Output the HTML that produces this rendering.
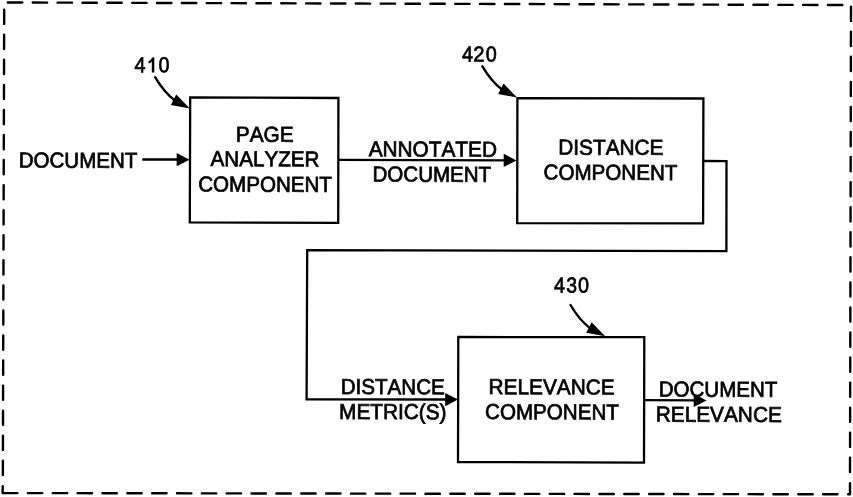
<!DOCTYPE html>
<html><head><meta charset="utf-8"><style>
html,body{margin:0;padding:0;background:#fff;}
svg{display:block;will-change:transform;}
text{font-family:"Liberation Sans",sans-serif;font-size:20.8px;fill:#000;stroke:#000;stroke-width:0.7px;font-kerning:none;}
</style></head><body>
<svg width="853" height="497" viewBox="0 0 853 497">
<rect width="853" height="497" fill="#fff"/>
<path d="M7.9,2.47 L843.6,5.03" fill="none" stroke="#000" stroke-width="2.4" stroke-linecap="round" stroke-dasharray="14.4 10.45"/>
<path d="M4.2,9.7 L2.85,476.2" fill="none" stroke="#000" stroke-width="2.4" stroke-linecap="round" stroke-dasharray="14.2 10.86"/>
<path d="M851,6.7 L850,473.7" fill="none" stroke="#000" stroke-width="2.4" stroke-linecap="round" stroke-dasharray="14.2 10.86"/>
<path d="M27.9,493.1 L838.7,494.3" fill="none" stroke="#000" stroke-width="2.4" stroke-linecap="round" stroke-dasharray="14.4 10.45"/>
<path d="M2.75,486.2 L2.6,493 L17.4,493.1" fill="none" stroke="#000" stroke-width="2.4" stroke-linejoin="round" stroke-linecap="round"/>
<path d="M850,483.2 L850,494.3 L848.2,494.3" fill="none" stroke="#000" stroke-width="2.4" stroke-linejoin="round" stroke-linecap="round"/>
<path d="M190.2,97.4 L338.4,98 L338.2,222.9 L189.8,222.4 Z" fill="none" stroke="#000" stroke-width="2.3"/>
<path d="M517.4,98.1 L703.4,98.5 L703.1,223.4 L517.2,223.1 Z" fill="none" stroke="#000" stroke-width="2.3"/>
<path d="M458.3,337 L644.3,337.2 L644,462.7 L458,462 Z" fill="none" stroke="#000" stroke-width="2.3"/>
<path d="M703.3,161 L726.5,161.1 L726.4,251.2 L307.2,250.2 L306.6,399.3 L450,399.5" fill="none" stroke="#000" stroke-width="2.3"/>
<path d="M142.3,159.5 L182,159.5" fill="none" stroke="#000" stroke-width="2.3"/>
<polygon points="189.50,159.70 176.70,166.30 176.70,153.10"/>
<path d="M338.3,159.9 L508,160.3" fill="none" stroke="#000" stroke-width="2.3"/>
<polygon points="516.50,160.40 503.69,166.97 503.71,153.77"/>
<polygon points="458.00,399.60 445.19,406.17 445.21,392.97"/>
<path d="M644.3,400.1 L698,400.3" fill="none" stroke="#000" stroke-width="2.3"/>
<polygon points="706.50,400.40 693.69,406.97 693.71,393.77"/>
<path d="M155.10,77.20 C160.00,85.50 165.00,93.00 174.50,100.30" fill="none" stroke="#000" stroke-width="2.4" stroke-linecap="round"/><polygon points="189.80,108.40 170.80,105.00 176.25,94.50"/>
<path d="M482.40,66.30 C487.30,74.60 492.30,82.10 501.80,89.40" fill="none" stroke="#000" stroke-width="2.4" stroke-linecap="round"/><polygon points="517.10,97.50 498.10,94.10 503.55,83.60"/>
<path d="M570.50,305.00 C575.40,313.30 580.40,320.80 589.90,328.10" fill="none" stroke="#000" stroke-width="2.4" stroke-linecap="round"/><polygon points="605.20,336.20 586.20,332.80 591.65,322.30"/>
<text transform="translate(134.45 72.3) rotate(0.17) scale(0.95 1.04)" text-anchor="start">4</text>
<text transform="translate(158.43 72.3) rotate(0.17) scale(0.95 1.04)" text-anchor="start">0</text>
<path d="M153.05,58.3 L153.05,72.5" fill="none" stroke="#000" stroke-width="2.5"/>
<path d="M153.2,58.4 C151.9,60.2 150.9,61.2 149.6,62.0" fill="none" stroke="#000" stroke-width="2.4" stroke-linecap="round"/>
<text transform="translate(461.95 61.5) rotate(0.17) scale(0.95 1.04)" text-anchor="start">4</text>
<text transform="translate(473.19 61.5) rotate(0.17) scale(0.97 1.04)" text-anchor="start">2</text>
<text transform="translate(485.73 61.5) rotate(0.17) scale(0.95 1.04)" text-anchor="start">0</text>
<text transform="translate(553.95 292.5) rotate(0.17) scale(0.95 1.04)" text-anchor="start">4</text>
<text transform="translate(566.16 292.5) rotate(0.17) scale(0.93 1.04)" text-anchor="start">3</text>
<text transform="translate(577.93 292.5) rotate(0.17) scale(0.95 1.04)" text-anchor="start">0</text>
<text transform="translate(18.71 167.5) rotate(0.17) scale(0.988 1.04)" text-anchor="start">DOCUMENT</text>
<text transform="translate(235.79 141.7) rotate(0.17) scale(1.0 1.04)" text-anchor="start">PAGE</text>
<text transform="translate(210.56 166.1) rotate(0.17) scale(0.993 1.04)" text-anchor="start">ANALYZER</text>
<text transform="translate(198.15 191.5) rotate(0.17) scale(0.99 1.04)" text-anchor="start">COMPONENT</text>
<text transform="translate(368.66 156.3) rotate(0.17) scale(1.0 1.04)" text-anchor="start">ANNOTATED</text>
<text transform="translate(372.51 181.5) rotate(0.17) scale(0.988 1.04)" text-anchor="start">DOCUMENT</text>
<text transform="translate(558.29 154.6) rotate(0.17) scale(1.0 1.04)" text-anchor="start">DISTANCE</text>
<text transform="translate(543.55 179.6) rotate(0.17) scale(0.99 1.04)" text-anchor="start">COMPONENT</text>
<text transform="translate(488.59 394.1) rotate(0.17) scale(1.0 1.04)" text-anchor="start">RELEVANCE</text>
<text transform="translate(485.05 419.1) rotate(0.17) scale(0.99 1.04)" text-anchor="start">COMPONENT</text>
<text transform="translate(340.71 394.0) rotate(0.17) scale(0.99 1.04)" text-anchor="start">DISTANCE</text>
<text transform="translate(339.09 418.9) rotate(0.17) scale(1.0 1.04)" text-anchor="start">METRIC(S)</text>
<text transform="translate(658.71 396.5) rotate(0.17) scale(0.988 1.04)" text-anchor="start">DOCUMENT</text>
<text transform="translate(655.79 421.6) rotate(0.17) scale(1.0 1.04)" text-anchor="start">RELEVANCE</text>
</svg>
</body></html>
